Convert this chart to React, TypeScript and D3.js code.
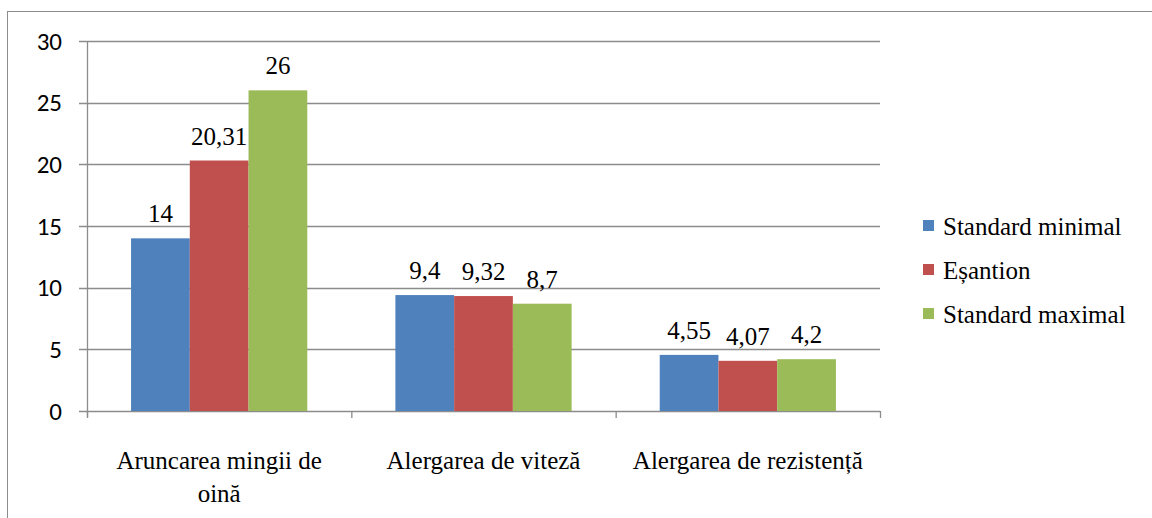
import React from 'react';
import * as d3 from 'd3';

const categories = ['Aruncarea mingii de oină', 'Alergarea de viteză', 'Alergarea de rezistență'];
const categoryLines = [['Aruncarea mingii de', 'oină'], ['Alergarea de viteză'], ['Alergarea de rezistență']];
const seriesNames = ['Standard minimal', 'Eșantion', 'Standard maximal'];
const standardMinimal = [14, 9.4, 4.55];
const esantion = [20.31, 9.32, 4.07];
const standardMaximal = [26, 8.7, 4.2];
const yTicks = [0, 5, 10, 15, 20, 25, 30];
const colors = ['#4F81BD', '#C0504D', '#9BBB59'];

const width = 1152;
const height = 518;

const left = 87, right = 880, top = 41, bottom = 411;
const values = [standardMinimal, esantion, standardMaximal];

const css = `
  .ser { font-family: "Liberation Serif", "Times New Roman", serif; font-size: 25px; fill: #000; }
  .san { font-family: "Carlito", "Open Sans", sans-serif; font-size: 25px; fill: #000; }
`;

export default function App() {
  const x = d3.scaleBand<string>().domain(categories).range([left, right]);
  const y = d3.scaleLinear().domain([0, 30]).range([bottom, top]);
  const bw = x.bandwidth();
  const barW = bw / 4.5;
  const x1 = d3.scaleBand<number>().domain([0, 1, 2]).range([0.75 * barW, bw - 0.75 * barW]);
  const grid = '#8c8c8c';

  return (
    <svg
      width={width}
      height={height}
      style={{ position: 'absolute', left: 0, top: 0, background: 'white', fontFamily: '"Liberation Serif", serif' }}
    >
      <style>{css}</style>
      {/* outer frame */}
      <rect x={7.5} y={11.5} width={width + 20} height={height + 20} fill="white" stroke={grid} strokeWidth={1} />

      {/* gridlines and y labels */}
      {yTicks.map(t => (
        <g key={t}>
          <line x1={left - 8} x2={right} y1={Math.round(y(t)) + 0.5} y2={Math.round(y(t)) + 0.5} stroke={grid} strokeWidth={1.3} />
          <text className="san" x={62} y={y(t)} dy="0.35em" textAnchor="end">
            {t}
          </text>
        </g>
      ))}

      {/* bars */}
      {categories.map((c, ci) =>
        values.map((vals, si) => {
          const bx = (x(c) as number) + (x1(si) as number);
          return (
            <g key={c + si}>
              <rect x={bx} y={y(vals[ci])} width={x1.bandwidth()} height={y(0) - y(vals[ci])} fill={colors[si]} />
              <text className="ser" x={bx + x1.bandwidth() / 2} y={y(vals[ci]) - 16} textAnchor="middle">
                {String(vals[ci]).replace('.', ',')}
              </text>
            </g>
          );
        })
      )}

      {/* axes */}
      <line x1={left + 0.5} x2={left + 0.5} y1={top} y2={bottom + 6} stroke={grid} strokeWidth={1.3} />
      {d3.range(categories.length + 1).map(i => (
        <line key={i} x1={left + i * bw + 0.5} x2={left + i * bw + 0.5} y1={bottom} y2={bottom + 7} stroke={grid} strokeWidth={1.3} />
      ))}

      {/* category labels */}
      {categories.map((c, ci) => {
        const cx = (x(c) as number) + bw / 2;
        return (
          <text key={c} className="ser" x={cx} y={469} textAnchor="middle">
            {categoryLines[ci].map((l, li) => (
              <tspan key={li} x={cx} dy={li === 0 ? 0 : 33}>{l}</tspan>
            ))}
          </text>
        );
      })}

      {/* legend */}
      {seriesNames.map((n, i) => {
        const ly = 227 + i * 44;
        return (
          <g key={n}>
            <rect x={923} y={ly - 7} width={11} height={11} fill={colors[i]} />
            <text className="ser" x={943} y={ly} dy="0.33em">
              {n}
            </text>
          </g>
        );
      })}
    </svg>
  );
}
